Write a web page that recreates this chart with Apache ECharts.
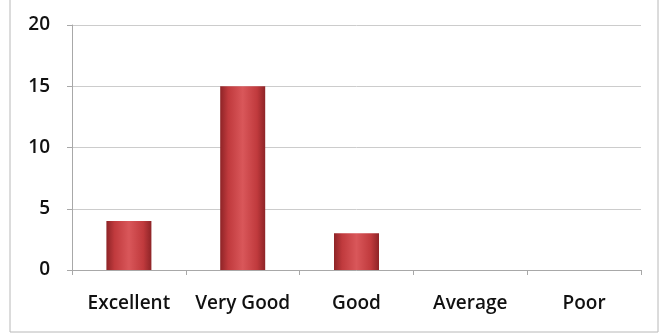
<!DOCTYPE html>
<html><head><meta charset="utf-8">
<script src="https://cdn.jsdelivr.net/npm/echarts@6/dist/echarts.min.js"></script>
<style>html,body{margin:0;padding:0;background:#fff}#c{width:660px;height:333px}</style>
</head><body><div id="c"></div>
<script>
const categories = ["Excellent", "Very Good", "Good", "Average", "Poor"];
const values = [4, 15, 3, 0, 0];
const yTicks = [0, 5, 10, 15, 20];

const chart = echarts.init(document.getElementById('c'), null, {renderer: 'canvas'});
const barColor = new echarts.graphic.LinearGradient(0, 0, 1, 0, [
  {offset: 0, color: '#8e2427'},
  {offset: 0.18, color: '#c03a3d'},
  {offset: 0.5, color: '#d9575a'},
  {offset: 0.82, color: '#c03a3d'},
  {offset: 1, color: '#8e2427'}
]);
chart.setOption({
  animation: false,
  graphic: [{type: 'rect', shape: {x: 10, y: -2, width: 648, height: 334}, style: {fill: 'none', stroke: '#b8b8b8', lineWidth: 1}, silent: true}],
  grid: {left: 72, right: 19, top: 25, bottom: 63, containLabel: false},
  xAxis: {
    type: 'category', data: categories, boundaryGap: true,
    axisLine: {lineStyle: {color: '#a8a8a8', width: 1}},
    axisTick: {show: true, alignWithLabel: false, length: 5, lineStyle: {color: '#a8a8a8'}},
    axisLabel: {interval: 0, hideOverlap: false, color: '#111', fontFamily: 'Open Sans', fontSize: 19, fontWeight: 600, margin: 24}
  },
  yAxis: {
    type: 'value', min: yTicks[0], max: yTicks[yTicks.length - 1], interval: 5,
    axisLine: {show: true, lineStyle: {color: '#a8a8a8', width: 1}},
    axisTick: {show: true, length: 5, lineStyle: {color: '#a8a8a8'}},
    splitLine: {lineStyle: {color: '#cccccc', width: 1}},
    axisLabel: {color: '#111', fontFamily: 'Open Sans', fontSize: 19, fontWeight: 600, margin: 22}
  },
  series: [{
    type: 'bar', data: values, barWidth: 45,
    itemStyle: {color: barColor, borderWidth: 0}
  }]
});
</script></body></html>
